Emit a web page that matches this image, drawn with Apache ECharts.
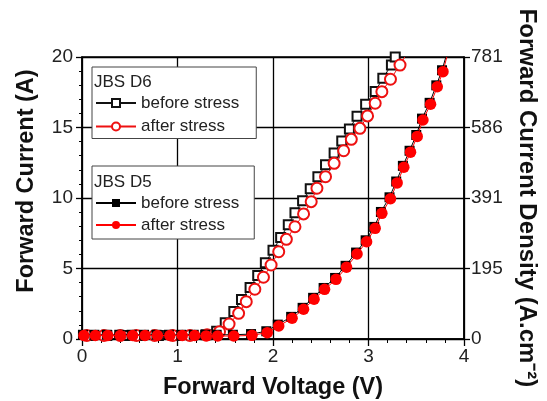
<!DOCTYPE html>
<html>
<head>
<meta charset="utf-8">
<script src="https://cdn.jsdelivr.net/npm/echarts@6/dist/echarts.min.js"></script>
<style>html,body{margin:0;padding:0;background:#fff}#c{width:547px;height:401px}</style>
</head>
<body>
<div id="c"></div>
<script>
// ---- data (V, A) ----
const voltageTicks = [0, 1, 2, 3, 4];
const currentTicks = [0, 5, 10, 15, 20];
const densityTickLabels = ['0', '195', '391', '586', '781'];

const d6Before = [[0.08,0.25],[0.26,0.25],[0.45,0.25],[0.62,0.25],[0.80,0.25],[0.98,0.25],[1.15,0.25],[1.30,0.3],
  [1.41,0.55],[1.50,1.15],[1.59,1.95],[1.67,2.8],[1.76,3.65],[1.84,4.5],[1.92,5.4],[2.00,6.3],[2.08,7.2],[2.16,8.1],
  [2.23,8.95],[2.31,9.8],[2.39,10.65],[2.47,11.5],[2.55,12.35],[2.64,13.2],[2.72,14.05],[2.80,14.9],[2.88,15.8],
  [2.97,16.65],[3.07,17.55],[3.15,18.5],[3.24,19.43],[3.28,20.0]];
const d6After = [[0.05,0.25],[0.23,0.25],[0.40,0.25],[0.57,0.25],[0.76,0.25],[0.95,0.25],[1.13,0.25],[1.31,0.3],
  [1.44,0.52],[1.54,1.06],[1.64,1.82],[1.72,2.65],[1.81,3.53],[1.90,4.38],[1.98,5.25],[2.06,6.19],[2.14,7.07],
  [2.23,7.96],[2.32,8.87],[2.40,9.74],[2.46,10.69],[2.55,11.51],[2.64,12.46],[2.74,13.35],[2.82,14.16],[2.91,14.94],
  [2.99,15.82],[3.07,16.72],[3.14,17.54],[3.23,18.42],[3.33,19.43],[3.38,20.0]];
const d5Before = [[0.01,0.3],[0.13,0.3],[0.26,0.3],[0.39,0.3],[0.52,0.3],[0.65,0.3],[0.78,0.3],[0.91,0.3],[1.04,0.3],
  [1.17,0.3],[1.29,0.3],[1.41,0.3],[1.58,0.3],[1.77,0.35],[1.93,0.55],[2.05,1.02],[2.19,1.57],[2.31,2.21],[2.42,2.92],
  [2.53,3.62],[2.65,4.33],[2.76,5.19],[2.87,6.13],[2.97,7.0],[3.06,7.95],[3.13,9.01],[3.22,10.05],[3.29,11.17],
  [3.36,12.28],[3.43,13.35],[3.50,14.47],[3.56,15.63],[3.64,16.75],[3.71,17.99],[3.77,19.06],[3.81,20.0]];
const d5After = [[0.02,0.25],[0.14,0.25],[0.27,0.25],[0.40,0.25],[0.53,0.25],[0.66,0.25],[0.79,0.25],[0.92,0.25],
  [1.05,0.25],[1.18,0.25],[1.30,0.22],[1.42,0.21],[1.59,0.21],[1.78,0.26],[1.94,0.45],[2.06,0.92],[2.20,1.47],
  [2.32,2.11],[2.43,2.82],[2.54,3.52],[2.66,4.23],[2.77,5.09],[2.88,6.03],[2.98,6.90],[3.07,7.85],[3.14,8.91],
  [3.23,9.95],[3.30,11.07],[3.37,12.18],[3.44,13.25],[3.51,14.37],[3.57,15.53],[3.65,16.65],[3.72,17.89],
  [3.78,18.96],[3.82,20.0]];

const FONT = 'Liberation Sans';
const chart = echarts.init(document.getElementById('c'), null, {renderer: 'canvas'});

function legendName(n) { return n.indexOf('before') >= 0 ? 'before stress' : 'after stress'; }
// last point (at the frame edge) carries only the line, no marker
function noEndMarker(arr) {
  return arr.map(function (p, i) { return i === arr.length - 1 ? {value: p, symbol: 'none'} : p; });
}

const legendBase = {
  orient: 'vertical', itemWidth: 40, itemHeight: 10,
  backgroundColor: '#fff', borderColor: '#444', borderWidth: 1, borderRadius: 0,
  selectedMode: false, formatter: legendName,
  textStyle: {fontFamily: FONT, fontSize: 17, color: '#222'}
};
const titleStyle = {fontFamily: FONT, fontSize: 17, fontWeight: 'normal', color: '#222'};
const nameStyle = {fontFamily: FONT, fontSize: 23.5, fontWeight: 'bold', color: '#111'};

chart.setOption({
  backgroundColor: '#fff',
  animation: false,
  textStyle: {fontFamily: FONT},
  grid: {left: 82, right: 83, top: 57, bottom: 62, containLabel: false, outerBoundsMode: 'none',
    show: true, borderColor: '#000', borderWidth: 1.5, backgroundColor: 'transparent'},
  title: [
    {text: 'JBS D6', left: 94, top: 74, padding: 0, textStyle: titleStyle},
    {text: 'JBS D5', left: 94, top: 174, padding: 0, textStyle: titleStyle}
  ],
  legend: [
    Object.assign({}, legendBase, {data: ['D6 before', 'D6 after'], left: 92, top: 67, itemGap: 6.5, padding: [27.5, 17, 3.5, 3]}),
    Object.assign({}, legendBase, {data: ['D5 before', 'D5 after'], left: 92, top: 166, itemGap: 5, padding: [28.5, 15, 5.5, 3]})
  ],
  xAxis: {
    type: 'value', min: voltageTicks[0], max: voltageTicks[voltageTicks.length - 1], interval: 1,
    name: 'Forward Voltage (V)', nameLocation: 'middle', nameGap: 37, nameTextStyle: nameStyle,
    axisLine: {show: true, onZero: false, lineStyle: {color: '#000', width: 1.5}},
    axisTick: {show: true, length: 7, lineStyle: {color: '#000', width: 1.3}},
    minorTick: {show: true, splitNumber: 5, length: 4, lineStyle: {color: '#000', width: 1}},
    axisLabel: {fontFamily: FONT, fontSize: 19, color: '#222', margin: 8},
    splitLine: {show: true, lineStyle: {color: '#000', width: 1.3}}
  },
  yAxis: [
    {
      type: 'value', min: currentTicks[0], max: currentTicks[currentTicks.length - 1], interval: 5,
      name: 'Forward Current (A)', nameLocation: 'middle', nameGap: 43,
      nameTextStyle: Object.assign({}, nameStyle, {padding: [0, 0, 0, 34]}),
      axisLine: {show: true, lineStyle: {color: '#000', width: 1.5}},
      axisTick: {show: true, length: 6, lineStyle: {color: '#000', width: 1.3}},
      minorTick: {show: true, splitNumber: 5, length: 3, lineStyle: {color: '#000', width: 1}},
      axisLabel: {fontFamily: FONT, fontSize: 19, color: '#222', margin: 9},
      splitLine: {show: true, lineStyle: {color: '#000', width: 1.3}}
    },
    {
      type: 'value', position: 'right', min: 0, max: 781, interval: 781 / 4,
      name: 'Forward Current Density (A.cm\u207B\u00B2)', nameLocation: 'middle', nameGap: 51, nameRotate: -90,
      nameTextStyle: Object.assign({}, nameStyle, {fontSize: 24}),
      axisLine: {show: true, lineStyle: {color: '#000', width: 1.5}},
      axisTick: {show: true, length: 6, lineStyle: {color: '#000', width: 1.3}},
      axisLabel: {fontFamily: FONT, fontSize: 19, color: '#222', margin: 7,
        formatter: function (v, i) { return densityTickLabels[i]; }},
      splitLine: {show: false}
    }
  ],
  series: [
    {name: 'D6 before', type: 'line', data: d6Before, symbol: 'emptyRect', symbolSize: 9, z: 3,
      lineStyle: {color: '#111', width: 1}, itemStyle: {color: '#111', borderColor: '#111', borderWidth: 1}},
    {name: 'D6 after', type: 'line', data: noEndMarker(d6After), symbol: 'emptyCircle', symbolSize: 11, z: 4,
      lineStyle: {color: '#ee1111', width: 1}, itemStyle: {color: '#ee1111', borderColor: '#ee1111', borderWidth: 1}},
    {name: 'D5 before', type: 'line', data: noEndMarker(d5Before), symbol: 'rect', symbolSize: 10, z: 5,
      lineStyle: {color: '#000', width: 1}, itemStyle: {color: '#000'}},
    {name: 'D5 after', type: 'line', data: noEndMarker(d5After), symbol: 'circle', symbolSize: 11.5, z: 6,
      lineStyle: {color: '#ff0000', width: 1}, itemStyle: {color: '#ff0000'}}
  ]
});
</script>
</body>
</html>
